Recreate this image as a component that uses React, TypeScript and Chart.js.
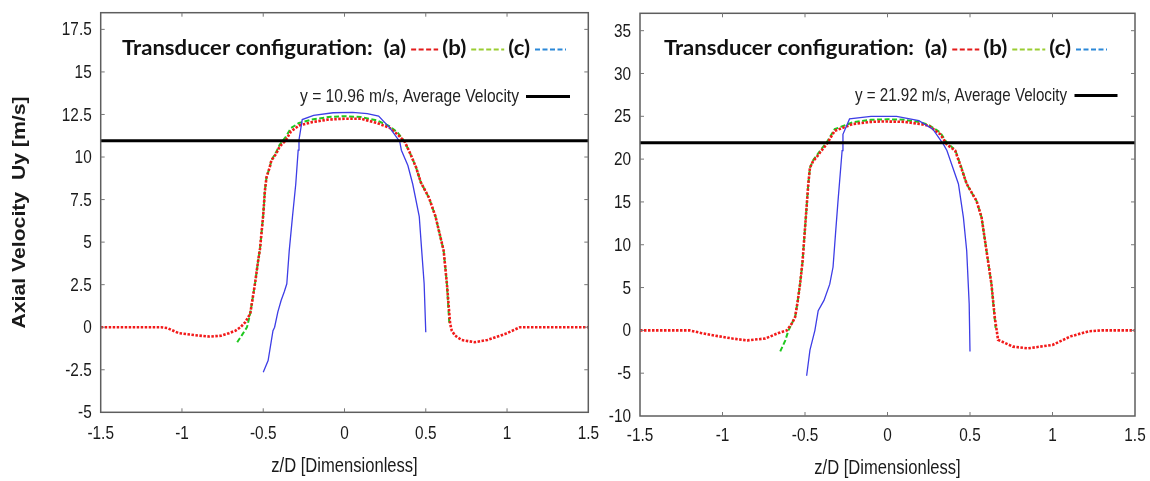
import React, { useEffect, useRef } from "react";
import { Chart, registerables } from "chart.js";
Chart.register(...registerables);

// ---------------- data ----------------
const xTickValues = [-1.5, -1, -0.5, 0, 0.5, 1, 1.5];
const leftYTickValues = [-5, -2.5, 0, 2.5, 5, 7.5, 10, 12.5, 15, 17.5];
const rightYTickValues = [-10, -5, 0, 5, 10, 15, 20, 25, 30, 35];

const xTitle = "z/D [Dimensionless]";
const yTitle = "Axial Velocity  Uy [m/s]";
const legendTitle = "Transducer configuration:";
const legendLabels = ["(a)", "(b)", "(c)"];

const leftAverage = 10.96;
const rightAverage = 21.92;
const leftAverageLabel = "y = 10.96 m/s, Average Velocity";
const rightAverageLabel = "y = 21.92 m/s, Average Velocity";

// left panel, configuration (a)
const leftAX = [-1.5, -1.3, -1.13, -1.09, -1.02, -0.92, -0.83, -0.76, -0.71, -0.67, -0.64, -0.61, -0.58, -0.56, -0.55, -0.53, -0.52, -0.51, -0.5, -0.49, -0.48, -0.46, -0.45, -0.42, -0.4, -0.36, -0.33, -0.28, -0.2, -0.1, 0, 0.1, 0.2, 0.28, 0.33, 0.37, 0.4, 0.44, 0.47, 0.52, 0.56, 0.61, 0.63, 0.65, 0.66, 0.68, 0.72, 0.8, 0.88, 0.99, 1.08, 1.2, 1.5];
const leftAY = [0, 0, 0, -0.05, -0.35, -0.47, -0.55, -0.5, -0.35, -0.2, 0, 0.3, 0.8, 2.0, 2.6, 4.0, 4.6, 5.6, 6.6, 8.0, 8.8, 9.4, 9.8, 10.2, 10.6, 11.0, 11.5, 11.85, 12.05, 12.2, 12.25, 12.25, 12.0, 11.7, 11.3, 10.9, 10.3, 9.4, 8.5, 7.6, 6.5, 4.5, 2.55, 0.2, -0.2, -0.49, -0.75, -0.88, -0.75, -0.39, 0, 0, 0];
// left panel, configuration (b)
const leftBX = [-0.66, -0.63, -0.6, -0.58, -0.56, -0.55, -0.53, -0.52, -0.51, -0.5, -0.49, -0.48, -0.46, -0.45, -0.42, -0.4, -0.36, -0.33, -0.28, -0.2, -0.1, 0, 0.1, 0.2, 0.28, 0.33, 0.37, 0.4, 0.44, 0.47, 0.52, 0.56, 0.61, 0.63, 0.645];
const leftBY = [-0.88, -0.45, 0, 0.8, 2.0, 2.6, 4.0, 4.6, 5.6, 6.6, 8.0, 8.8, 9.4, 9.8, 10.3, 10.7, 11.2, 11.7, 12.0, 12.2, 12.35, 12.4, 12.35, 12.15, 11.8, 11.4, 10.9, 10.3, 9.4, 8.5, 7.6, 6.5, 4.5, 2.55, 0.2];
// left panel, configuration (c)
const leftCX = [-0.5, -0.47, -0.44, -0.43, -0.41, -0.39, -0.37, -0.355, -0.34, -0.32, -0.3, -0.285, -0.28, -0.26, -0.19, -0.07, 0.05, 0.14, 0.21, 0.28, 0.34, 0.35, 0.39, 0.42, 0.46, 0.475, 0.49, 0.5];
const leftCY = [-2.65, -1.96, -0.2, 0, 0.9, 1.57, 2.1, 2.55, 4.5, 6.5, 8.4, 10.4, 11.0, 12.2, 12.45, 12.6, 12.62, 12.55, 12.4, 11.7, 10.9, 10.4, 9.5, 8.4, 6.5, 4.5, 2.55, -0.3];

// right panel, configuration (a)
const rightAX = [-1.5, -1.2, -1.13, -1.05, -0.94, -0.85, -0.74, -0.66, -0.61, -0.58, -0.56, -0.545, -0.53, -0.515, -0.51, -0.495, -0.48, -0.47, -0.45, -0.43, -0.4, -0.37, -0.32, -0.21, -0.1, -0.03, 0.1, 0.2, 0.25, 0.32, 0.36, 0.41, 0.45, 0.48, 0.54, 0.57, 0.6, 0.63, 0.65, 0.67, 0.76, 0.85, 1.0, 1.11, 1.22, 1.3, 1.5];
const rightAY = [0, 0, -0.3, -0.6, -0.95, -1.17, -0.95, -0.3, 0, 0.8, 1.55, 3.3, 5.4, 8.0, 9.3, 13.2, 17.1, 19.0, 19.8, 20.2, 21.0, 21.7, 23.3, 24.1, 24.35, 24.4, 24.35, 24.1, 23.9, 22.9, 21.7, 21.0, 18.8, 17.1, 15.1, 13.2, 9.3, 5.4, 1.55, -1.1, -1.9, -2.1, -1.7, -0.7, -0.1, 0, 0];
// right panel, configuration (b)
const rightBX = [-0.65, -0.62, -0.6, -0.58, -0.56, -0.545, -0.53, -0.515, -0.51, -0.495, -0.48, -0.47, -0.45, -0.43, -0.4, -0.37, -0.32, -0.21, -0.1, 0, 0.1, 0.2, 0.25, 0.32, 0.36, 0.41, 0.45, 0.48, 0.54, 0.57, 0.6, 0.63, 0.655];
const rightBY = [-2.46, -1.2, 0, 0.8, 1.55, 3.3, 5.4, 8.0, 9.3, 13.2, 17.1, 19.0, 19.9, 20.4, 21.2, 21.9, 23.5, 24.3, 24.6, 24.65, 24.6, 24.3, 24.0, 23.1, 21.9, 21.1, 18.9, 17.1, 15.1, 13.2, 9.3, 5.4, 0.3];
// right panel, configuration (c)
const rightCX = [-0.49, -0.47, -0.44, -0.42, -0.385, -0.35, -0.33, -0.315, -0.3, -0.275, -0.27, -0.23, -0.1, 0.055, 0.19, 0.275, 0.34, 0.36, 0.43, 0.46, 0.48, 0.495, 0.5];
const rightCY = [-5.3, -2.3, 0, 2.3, 3.5, 5.4, 7.4, 11.3, 15.1, 21.0, 22.9, 24.7, 25.0, 25.0, 24.5, 23.5, 21.7, 21.0, 17.1, 13.2, 9.3, 3.1, -2.46];

// ---------------- styles ----------------
const RED = "#f21a1a";
const GREEN = "#1fc81f";
const BLUE = "#3d3de6";
const LEG_RED = "#e41b1b";
const LEG_GREEN = "#9acd32";
const LEG_BLUE = "#2b88d8";
const FRAME = "#5e5e5e";
const TEXT = "#1a1a1a";
const SANS = '"Liberation Sans", Arial, sans-serif';
const NARROW = 0.83; // horizontal squeeze of the original figure's lettering

type Panel = {
  offset: number;
  width: number;
  yMin: number;
  yMax: number;
  yTicks: number[];
  ax: number[]; ay: number[];
  bx: number[]; by: number[];
  cx: number[]; cy: number[];
  avg: number;
  avgLabel: string;
  area: { l: number; r: number; t: number; b: number };
  xTickCenterGap: number;
  xTitleCenterY: number;
  showYTitle: boolean;
  legendX: number;
  legendY: number;
  legendW: number;
  avgTextRight: number;
  avgTextW: number;
  avgLineX0: number;
  avgLineX1: number;
  avgY: number;
};

const H = 481;

const panels: Panel[] = [
  {
    offset: 0, width: 605,
    yMin: -5, yMax: 18.48, yTicks: leftYTickValues,
    ax: leftAX, ay: leftAY, bx: leftBX, by: leftBY, cx: leftCX, cy: leftCY,
    avg: leftAverage, avgLabel: leftAverageLabel,
    area: { l: 100.7, r: 588.3, t: 12.7, b: 412.3 },
    xTickCenterGap: 22,
    xTitleCenterY: 467,
    showYTitle: true,
    legendX: 122, legendY: 48.5, legendW: 444,
    avgTextRight: 519, avgTextW: 219, avgLineX0: 526, avgLineX1: 570, avgY: 97,
  },
  {
    offset: 590, width: 560,
    yMin: -10, yMax: 37.03, yTicks: rightYTickValues,
    ax: rightAX, ay: rightAY, bx: rightBX, by: rightBY, cx: rightCX, cy: rightCY,
    avg: rightAverage, avgLabel: rightAverageLabel,
    area: { l: 50, r: 545, t: 13.3, b: 416 },
    xTickCenterGap: 20,
    xTitleCenterY: 469,
    showYTitle: false,
    legendX: 74, legendY: 48.5, legendW: 443,
    avgTextRight: 477, avgTextW: 212, avgLineX0: 484.5, avgLineX1: 527.5, avgY: 96,
  },
];

function squeezedText(ctx: CanvasRenderingContext2D, text: string, x: number, y: number, sx: number, align: "left" | "right" | "center") {
  const w = ctx.measureText(text).width * sx;
  let x0 = x;
  if (align === "right") x0 = x - w;
  if (align === "center") x0 = x - w / 2;
  ctx.save();
  ctx.textAlign = "left";
  ctx.translate(x0, y);
  ctx.scale(sx, 1);
  ctx.fillText(text, 0, 0);
  ctx.restore();
  return w;
}

function drawLegend(ctx: CanvasRenderingContext2D, p: Panel) {
  const base = 21;
  ctx.save();
  ctx.font = `bold ${base}px Lato, "Open Sans", sans-serif`;
  ctx.textBaseline = "middle";
  ctx.fillStyle = "#111";
  const gapBefore = 5, gapAfter = 4;
  const dashLens = [27, 33, 31];
  const cols = [LEG_RED, LEG_GREEN, LEG_BLUE];
  const titleW = ctx.measureText(legendTitle + "  ").width;
  const labelW = legendLabels.map((l) => ctx.measureText(l).width);
  const textW = titleW + labelW.reduce((a, b) => a + b, 0);
  const fixed = dashLens.reduce((a, b) => a + b, 0) + 3 * gapBefore + 2 * gapAfter;
  const sx = (p.legendW - fixed) / textW;
  let x = p.legendX;
  x += squeezedText(ctx, legendTitle + "  ", x, p.legendY, sx, "left");
  legendLabels.forEach((l, i) => {
    x += squeezedText(ctx, l, x, p.legendY, sx, "left");
    x += gapBefore;
    ctx.save();
    ctx.strokeStyle = cols[i];
    ctx.lineWidth = 2;
    ctx.setLineDash([5, 2.5]);
    ctx.beginPath();
    ctx.moveTo(x, p.legendY + 1);
    ctx.lineTo(x + dashLens[i], p.legendY + 1);
    ctx.stroke();
    ctx.restore();
    x += dashLens[i] + gapAfter;
  });
  ctx.restore();
}

function makePlugin(p: Panel) {
  return {
    id: "frameAndNotes",
    afterDraw(chart: any) {
      const ctx: CanvasRenderingContext2D = chart.ctx;
      const { left, right, top, bottom } = chart.chartArea;
      const xs = chart.scales.x;
      const ys = chart.scales.y;
      ctx.save();
      // frame
      ctx.strokeStyle = FRAME;
      ctx.lineWidth = 1.5;
      ctx.strokeRect(left, top, right - left, bottom - top);
      // inward tick marks (mirrored on all four sides)
      ctx.lineWidth = 1;
      ctx.strokeStyle = "#777";
      const tl = 4;
      ctx.beginPath();
      xTickValues.forEach((v) => {
        const px = xs.getPixelForValue(v);
        if (px <= left + 1 || px >= right - 1) return;
        ctx.moveTo(px, bottom);
        ctx.lineTo(px, bottom - tl);
        ctx.moveTo(px, top);
        ctx.lineTo(px, top + tl);
      });
      p.yTicks.forEach((v) => {
        const py = ys.getPixelForValue(v);
        if (py <= top + 1 || py >= bottom - 1) return;
        ctx.moveTo(left, py);
        ctx.lineTo(left + tl, py);
        ctx.moveTo(right, py);
        ctx.lineTo(right - tl, py);
      });
      ctx.stroke();

      // tick labels
      ctx.fillStyle = TEXT;
      ctx.font = `18.5px ${SANS}`;
      ctx.textBaseline = "middle";
      xTickValues.forEach((v) => {
        squeezedText(ctx, String(v), xs.getPixelForValue(v), bottom + p.xTickCenterGap, NARROW, "center");
      });
      p.yTicks.forEach((v) => {
        squeezedText(ctx, String(v), left - 9, ys.getPixelForValue(v) + 1, NARROW, "right");
      });

      // x axis title
      ctx.font = `19.5px ${SANS}`;
      squeezedText(ctx, xTitle, (left + right) / 2, p.xTitleCenterY, 0.85, "center");

      // legend of configurations
      drawLegend(ctx, p);

      // average velocity key
      ctx.font = `19px ${SANS}`;
      ctx.fillStyle = "#222";
      ctx.textBaseline = "middle";
      const w = ctx.measureText(p.avgLabel).width;
      squeezedText(ctx, p.avgLabel, p.avgTextRight, p.avgY, p.avgTextW / w, "right");
      ctx.strokeStyle = "#000";
      ctx.lineWidth = 3;
      ctx.beginPath();
      ctx.moveTo(p.avgLineX0, p.avgY - 0.5);
      ctx.lineTo(p.avgLineX1, p.avgY - 0.5);
      ctx.stroke();

      // y axis title
      if (p.showYTitle) {
        ctx.font = `bold 20px ${SANS}`;
        ctx.fillStyle = TEXT;
        ctx.textAlign = "center";
        ctx.textBaseline = "middle";
        const tw = ctx.measureText(yTitle).width;
        ctx.save();
        ctx.translate(20, 212.5);
        ctx.rotate(-Math.PI / 2);
        ctx.scale(232 / tw, 0.9);
        ctx.fillText(yTitle, 0, 0);
        ctx.restore();
      }
      ctx.restore();
    },
  };
}

function makeConfig(p: Panel): any {
  const xy = (xs: number[], ys: number[]) => xs.map((x, i) => ({ x, y: ys[i] }));
  return {
    type: "line",
    data: {
      datasets: [
        {
          label: "avg",
          data: [
            { x: xTickValues[0], y: p.avg },
            { x: xTickValues[xTickValues.length - 1], y: p.avg },
          ],
          borderColor: "#000",
          borderWidth: 3,
          pointRadius: 0,
        },
        { label: legendLabels[2], data: xy(p.cx, p.cy), borderColor: BLUE, borderWidth: 1.3, pointRadius: 0 },
        { label: legendLabels[0], data: xy(p.ax, p.ay), borderColor: RED, borderWidth: 2.6, borderDash: [2.5, 1.5], pointRadius: 0 },
        { label: legendLabels[1], data: xy(p.bx, p.by), borderColor: GREEN, borderWidth: 2, borderDash: [5, 2.5], pointRadius: 0 },
      ],
    },
    options: {
      animation: false,
      responsive: false,
      devicePixelRatio: 1,
      layout: { padding: { left: 0, top: p.area.t, right: p.width - p.area.r, bottom: 0 } },
      plugins: { legend: { display: false }, tooltip: { enabled: false } },
      elements: { line: { tension: 0 } },
      scales: {
        x: {
          type: "linear",
          min: xTickValues[0],
          max: xTickValues[xTickValues.length - 1],
          grid: { display: false },
          border: { display: false },
          afterBuildTicks: (s: any) => { s.ticks = xTickValues.map((v) => ({ value: v })); },
          afterFit: (s: any) => { s.height = H - p.area.b; },
          ticks: { display: false },
        },
        y: {
          type: "linear",
          min: p.yMin,
          max: p.yMax,
          grid: { display: false },
          border: { display: false },
          afterBuildTicks: (s: any) => { s.ticks = p.yTicks.map((v) => ({ value: v })); },
          afterFit: (s: any) => { s.width = p.area.l; },
          ticks: { display: false },
        },
      },
    },
    plugins: [makePlugin(p)],
  };
}

function PanelChart({ p }: { p: Panel }) {
  const ref = useRef<HTMLCanvasElement>(null);
  useEffect(() => {
    if (!ref.current) return;
    const chart = new Chart(ref.current, makeConfig(p));
    return () => chart.destroy();
  }, [p]);
  return (
    <canvas
      ref={ref}
      width={p.width}
      height={H}
      style={{ position: "absolute", left: p.offset, top: 0, width: p.width, height: H, display: "block" }}
    />
  );
}

export default function App() {
  return (
    <div style={{ position: "absolute", left: 0, top: 0, width: 1150, height: H, background: "#fff", overflow: "hidden" }}>
      {panels.map((p, i) => (
        <PanelChart key={i} p={p} />
      ))}
    </div>
  );
}
